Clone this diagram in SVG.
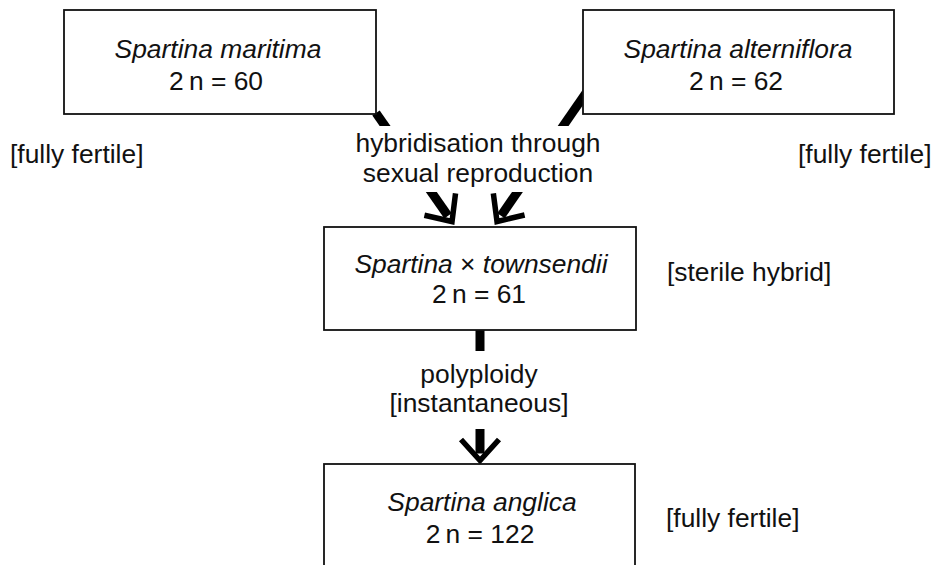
<svg xmlns="http://www.w3.org/2000/svg" width="934" height="565" viewBox="0 0 934 565">
<style>
text{font-family:"Liberation Sans",Arial,sans-serif;font-size:26.4px;fill:#111}
.sp{font-style:italic}
.c{text-anchor:middle}
.box{fill:#fff;stroke:#111;stroke-width:1.8}
.conn{stroke:#000;stroke-width:9;fill:none}
.bg{fill:#fff}
</style>
<defs>
<marker id="ah" markerUnits="userSpaceOnUse" orient="auto" refX="-7" refY="0" markerWidth="40" markerHeight="50" viewBox="-30 -25 40 50" overflow="visible">
<path d="M -21,-19 L 0,0 L -21,19" fill="none" stroke="#000" stroke-width="5.5" stroke-linejoin="miter"/>
</marker>
</defs>
<g id="connectors">
<path class="conn" d="M 376,113 L 448,215.8" marker-end="url(#ah)"/>
<path class="conn" d="M 589.4,88 L 501,215.75" marker-end="url(#ah)"/>
<path class="conn" d="M 480,330 L 480,453.5" marker-end="url(#ah)"/>
</g>
<g id="label-hybridisation">
<rect class="bg" x="350" y="126" width="258" height="66"/>
<text class="c" x="478" y="152">hybridisation through</text>
<text class="c" x="478" y="182">sexual reproduction</text>
</g>
<g id="label-polyploidy">
<rect class="bg" x="385" y="351" width="190" height="78"/>
<text class="c" x="479" y="383">polyploidy</text>
<text class="c" x="479" y="412">[instantaneous]</text>
</g>
<g id="node-maritima">
<rect class="box" x="64" y="10" width="312" height="104"/>
<text class="c sp" x="218" y="58">Spartina maritima</text>
<text class="c" x="216" y="90">2&#8201;n = 60</text>
</g>
<g id="node-alterniflora">
<rect class="box" x="583" y="10" width="311" height="104"/>
<text class="c sp" x="738" y="58">Spartina alterniflora</text>
<text class="c" x="736" y="90">2&#8201;n = 62</text>
</g>
<g id="node-townsendii">
<rect class="box" x="324" y="227" width="312" height="103"/>
<text class="c" x="481" y="273"><tspan class="sp">Spartina</tspan> × <tspan class="sp">townsendii</tspan></text>
<text class="c" x="479" y="303">2&#8201;n = 61</text>
</g>
<g id="node-anglica">
<rect class="box" x="324" y="464" width="311" height="120"/>
<text class="c sp" x="482" y="511">Spartina anglica</text>
<text class="c" x="480" y="543">2&#8201;n = 122</text>
</g>
<g id="notes">
<text x="10" y="163">[fully fertile]</text>
<text x="798" y="163">[fully fertile]</text>
<text x="667" y="281">[sterile hybrid]</text>
<text x="666" y="527">[fully fertile]</text>
</g>
</svg>
